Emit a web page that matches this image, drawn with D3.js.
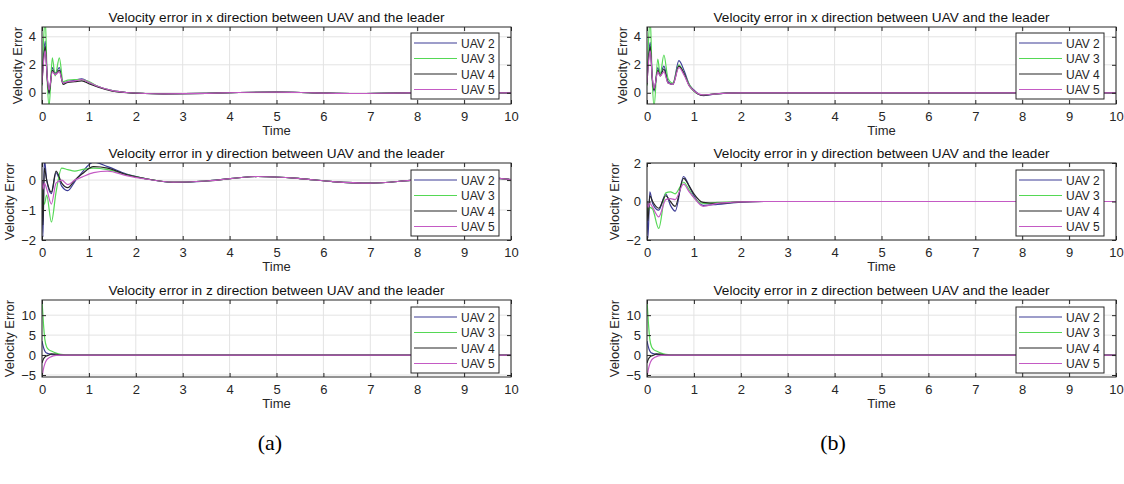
<!DOCTYPE html>
<html>
<head>
<meta charset="utf-8">
<script src="https://cdn.jsdelivr.net/npm/d3@7"></script>
<style>
  body { margin: 0; background: #fff; }
  text { font-family: "Liberation Sans", Arial, sans-serif; }
</style>
</head>
<body>
<div id="chart"></div>
<script>
// series names + colours
var names = ["UAV 2", "UAV 3", "UAV 4", "UAV 5"];
var colors = ["#3c3c96", "#55d855", "#262626", "#c45ac4"];
var xTicks = [0, 1, 2, 3, 4, 5, 6, 7, 8, 9, 10];

// (a) x direction
var tAx = [0, 0.03, 0.07, 0.11, 0.15, 0.22, 0.28, 0.37, 0.45, 0.55, 0.7, 0.85, 1.0, 1.2, 1.5, 1.8, 2.2, 2.6, 3.5, 4.2, 5, 5.8, 6.7, 7.5, 8.5, 10];
var aX2 = [0.8, 2.5, 3.7, 1.2, -0.1, 1.8, 1.4, 1.8, 0.7, 0.8, 0.9, 1.0, 0.75, 0.45, 0.15, 0.02, -0.05, -0.07, -0.04, 0.02, 0.05, 0.0, -0.05, -0.02, 0, 0];
var aX3 = [0.5, 3.5, 5.2, 1.0, -1.0, 2.5, 1.2, 2.5, 0.8, 0.9, 0.95, 0.95, 0.8, 0.45, 0.15, 0.02, -0.05, -0.07, -0.04, 0.02, 0.05, 0.0, -0.05, -0.02, 0, 0];
var aX4 = [0.6, 2.3, 3.3, 1.1, 0.0, 1.6, 1.3, 1.6, 0.6, 0.75, 0.8, 0.85, 0.65, 0.4, 0.12, 0.01, -0.05, -0.07, -0.04, 0.02, 0.05, 0.0, -0.05, -0.02, 0, 0];
var aX5 = [0.7, 2.1, 3.0, 1.2, 0.2, 1.5, 1.3, 1.5, 0.7, 0.8, 0.85, 0.95, 0.75, 0.45, 0.15, 0.02, -0.05, -0.07, -0.04, 0.02, 0.05, 0.0, -0.05, -0.02, 0, 0];

// (a) y direction
var tAy = [0, 0.02, 0.05, 0.1, 0.2, 0.3, 0.42, 0.55, 0.7, 0.85, 1.1, 1.4, 1.8, 2.2, 2.8, 3.5, 4.6, 5.5, 6.2, 7.0, 7.8, 8.7, 9.4, 10];
var aY2 = [0, -1.9, 0.7, 0.0, -0.45, 0.25, -0.2, -0.35, -0.05, 0.25, 0.6, 0.45, 0.2, 0.05, -0.08, -0.03, 0.12, 0.05, -0.05, -0.1, -0.02, 0.1, 0.08, 0.02];
var aY3 = [0, -0.5, -0.8, -0.5, -1.4, -0.4, 0.4, 0.35, 0.3, 0.35, 0.4, 0.35, 0.18, 0.05, -0.07, -0.03, 0.12, 0.05, -0.05, -0.1, -0.02, 0.1, 0.08, 0.02];
var aY4 = [0, -1.5, 0.4, 0.0, -0.4, 0.3, -0.1, -0.25, 0.0, 0.2, 0.45, 0.4, 0.18, 0.05, -0.07, -0.03, 0.12, 0.05, -0.05, -0.1, -0.02, 0.1, 0.08, 0.02];
var aY5 = [0, -0.3, -0.1, -0.3, -0.8, -0.1, 0.0, -0.15, 0.0, 0.1, 0.25, 0.3, 0.15, 0.04, -0.07, -0.03, 0.12, 0.05, -0.05, -0.1, -0.02, 0.1, 0.08, 0.02];

// z direction (same shape in a and b)
var tZ = [0, 0.03, 0.06, 0.1, 0.15, 0.2, 0.3, 0.4, 0.6, 1, 10];
var aZ2 = [3.5, 2.0, 1.0, 0.5, 0.3, 0.15, 0.05, 0, 0, 0, 0];
var aZ3 = [13.7, 8, 4, 2.0, 1.3, 1.0, 0.5, 0.2, 0, 0, 0];
var aZ4 = [-2, -1.0, -0.5, -0.2, 0, 0.3, 0.2, 0.05, 0, 0, 0];
var aZ5 = [-5.5, -3.5, -2.2, -1.2, -0.7, -0.4, -0.1, 0, 0, 0, 0];

// (b) x direction
var tBx = [0, 0.03, 0.07, 0.11, 0.15, 0.23, 0.28, 0.36, 0.45, 0.55, 0.68, 0.8, 0.9, 1.0, 1.1, 1.2, 1.4, 1.7, 2.0, 10];
var bX2 = [0.8, 2.5, 3.6, 1.2, 0.1, 1.8, 1.3, 1.9, 0.8, 0.6, 2.3, 1.5, 0.6, 0.2, -0.1, -0.2, -0.12, -0.03, 0, 0];
var bX3 = [0.5, 3.5, 5.2, 1.0, -1.0, 2.4, 1.3, 2.7, 1.0, 0.7, 2.0, 1.3, 0.6, 0.1, -0.1, -0.15, -0.1, -0.03, 0, 0];
var bX4 = [0.6, 2.3, 3.3, 1.1, 0.2, 1.6, 1.2, 1.7, 0.7, 0.6, 1.9, 1.3, 0.5, 0.15, -0.1, -0.18, -0.1, -0.03, 0, 0];
var bX5 = [0.7, 2.1, 3.0, 1.2, 0.3, 1.5, 1.2, 1.5, 0.7, 0.6, 1.8, 1.2, 0.5, 0.15, -0.08, -0.15, -0.1, -0.03, 0, 0];

// (b) y direction
var tBy = [0, 0.02, 0.06, 0.12, 0.25, 0.4, 0.5, 0.6, 0.78, 0.9, 1.0, 1.2, 1.5, 2.0, 2.5, 10];
var bY2 = [0, -1.9, 0.5, -0.1, -0.45, 0.4, -0.2, -0.5, 1.3, 0.8, 0.3, -0.2, -0.15, -0.03, 0, 0];
var bY3 = [0, -0.5, -0.3, -0.4, -1.4, 0.45, 0.5, 0.4, 1.0, 0.6, 0.2, -0.1, -0.05, 0, 0, 0];
var bY4 = [0, -1.0, 0.3, 0.0, -0.35, 0.3, 0.0, -0.25, 1.2, 0.8, 0.4, -0.05, -0.1, -0.02, 0, 0];
var bY5 = [0, -0.3, -0.1, -0.3, -0.8, 0.1, 0.15, 0.1, 0.9, 0.5, 0.2, -0.25, -0.1, -0.02, 0, 0];

var titles = ["Velocity error in x direction between UAV and the leader",
              "Velocity error in y direction between UAV and the leader",
              "Velocity error in z direction between UAV and the leader"];

var panels = [
  {col: 0, row: 0, t: tAx, ys: [aX2, aX3, aX4, aX5], dom: [-0.8, 4.7], ticks: [0, 2, 4]},
  {col: 0, row: 1, t: tAy, ys: [aY2, aY3, aY4, aY5], dom: [-2, 0.57], ticks: [-2, -1, 0]},
  {col: 0, row: 2, t: tZ,  ys: [aZ2, aZ3, aZ4, aZ5], dom: [-5.5, 13.8], ticks: [-5, 0, 5, 10]},
  {col: 1, row: 0, t: tBx, ys: [bX2, bX3, bX4, bX5], dom: [-0.8, 4.7], ticks: [0, 2, 4]},
  {col: 1, row: 1, t: tBy, ys: [bY2, bY3, bY4, bY5], dom: [-2, 2], ticks: [-2, 0, 2]},
  {col: 1, row: 2, t: tZ,  ys: [aZ2, aZ3, aZ4, aZ5], dom: [-5.5, 13.8], ticks: [-5, 0, 5, 10]}
];

var W = 1124, H = 484;
var colLeft = [42, 647], rowTop = [27, 163, 300];
var pw = 469, ph = 77;
var ink = "#262626";
var fmt = d3.format("d");

var svg = d3.select("#chart").append("svg")
    .attr("width", W).attr("height", H);
svg.append("rect").attr("width", W).attr("height", H).attr("fill", "#fff");

panels.forEach(function(p, i) {
    var x0 = colLeft[p.col], y0 = rowTop[p.row];
    var g = svg.append("g").attr("transform", `translate(${x0},${y0})`);
    var x = d3.scaleLinear().domain([0, 10]).range([0, pw]);
    var y = d3.scaleLinear().domain(p.dom).range([ph, 0]);

    // grid
    g.append("g").selectAll("line").data(xTicks).enter().append("line")
        .attr("x1", d => x(d)).attr("x2", d => x(d)).attr("y1", 0).attr("y2", ph)
        .attr("stroke", "#e3e3e3").attr("stroke-width", 1);
    g.append("g").selectAll("line").data(p.ticks).enter().append("line")
        .attr("y1", d => y(d)).attr("y2", d => y(d)).attr("x1", 0).attr("x2", pw)
        .attr("stroke", "#e3e3e3").attr("stroke-width", 1);

    // lines
    g.append("clipPath").attr("id", "clip" + i)
        .append("rect").attr("width", pw).attr("height", ph);
    var line = d3.line().curve(d3.curveMonotoneX);
    p.ys.forEach(function(vals, k) {
        var pts = p.t.map((t, j) => [x(t), y(vals[j])]);
        g.append("path")
            .attr("clip-path", `url(#clip${i})`)
            .attr("d", line(pts))
            .attr("fill", "none")
            .attr("stroke", colors[k])
            .attr("stroke-width", 1.2);
    });

    // axes, matlab style ticks inside
    var xAxis = d3.axisBottom(x).tickValues(xTicks).tickFormat(fmt).tickSize(-4).tickPadding(8);
    var yAxis = d3.axisLeft(y).tickValues(p.ticks).tickFormat(fmt).tickSize(-4).tickPadding(6);
    g.append("g").attr("transform", `translate(0,${ph})`).call(xAxis)
        .call(a => a.select(".domain").remove())
        .call(a => a.selectAll("line").attr("stroke", ink))
        .call(a => a.selectAll("text").attr("fill", ink).style("font-size", "13px"));
    var yg = g.append("g").call(yAxis)
        .call(a => a.select(".domain").remove())
        .call(a => a.selectAll("line").attr("stroke", ink))
        .call(a => a.selectAll("text").attr("fill", ink).style("font-size", "13px"));
    g.append("g").call(d3.axisTop(x).tickValues(xTicks).tickSize(-4).tickFormat(""))
        .call(a => a.select(".domain").remove())
        .call(a => a.selectAll("line").attr("stroke", ink));
    g.append("g").attr("transform", `translate(${pw},0)`)
        .call(d3.axisRight(y).tickValues(p.ticks).tickSize(-4).tickFormat(""))
        .call(a => a.select(".domain").remove())
        .call(a => a.selectAll("line").attr("stroke", ink));

    g.append("rect").attr("width", pw).attr("height", ph)
        .attr("fill", "none").attr("stroke", ink).attr("stroke-width", 1);

    // title + labels
    g.append("text").attr("x", pw / 2).attr("y", -5)
        .attr("text-anchor", "middle").attr("fill", "#111")
        .style("font-size", "13.6px").text(titles[p.row]);
    g.append("text").attr("x", pw / 2).attr("y", ph + 31)
        .attr("text-anchor", "middle").attr("fill", ink)
        .style("font-size", "13px").text("Time");
    // y label sits just left of the widest tick label, like matlab
    var minX = d3.min(yg.selectAll("text").nodes(), n => n.getBBox().x - 6);
    g.append("text")
        .attr("transform", `translate(${minX - 1},${ph / 2}) rotate(-90)`)
        .attr("text-anchor", "middle").attr("fill", ink)
        .style("font-size", "13px").text("Velocity Error");

    // legend
    var lg = g.append("g").attr("transform", `translate(369,${p.row == 0 ? 6 : 7})`);
    lg.append("rect").attr("width", 88).attr("height", 66)
        .attr("fill", "#fff").attr("stroke", ink).attr("stroke-width", 1);
    names.forEach(function(n, k) {
        var ly = 10 + k * 15.5;
        lg.append("line").attr("x1", 3).attr("x2", 46).attr("y1", ly).attr("y2", ly)
            .attr("stroke", colors[k]).attr("stroke-width", 1.1);
        lg.append("text").attr("x", 50).attr("y", ly + 4.5)
            .attr("fill", ink).style("font-size", "12px").text(n);
    });
});

// sub captions
svg.append("text").attr("x", 270).attr("y", 450).attr("text-anchor", "middle")
    .style("font-family", "'Liberation Serif', 'Times New Roman', serif")
    .style("font-size", "22px").text("(a)");
svg.append("text").attr("x", 833).attr("y", 450).attr("text-anchor", "middle")
    .style("font-family", "'Liberation Serif', 'Times New Roman', serif")
    .style("font-size", "22px").text("(b)");
</script>
</body>
</html>
